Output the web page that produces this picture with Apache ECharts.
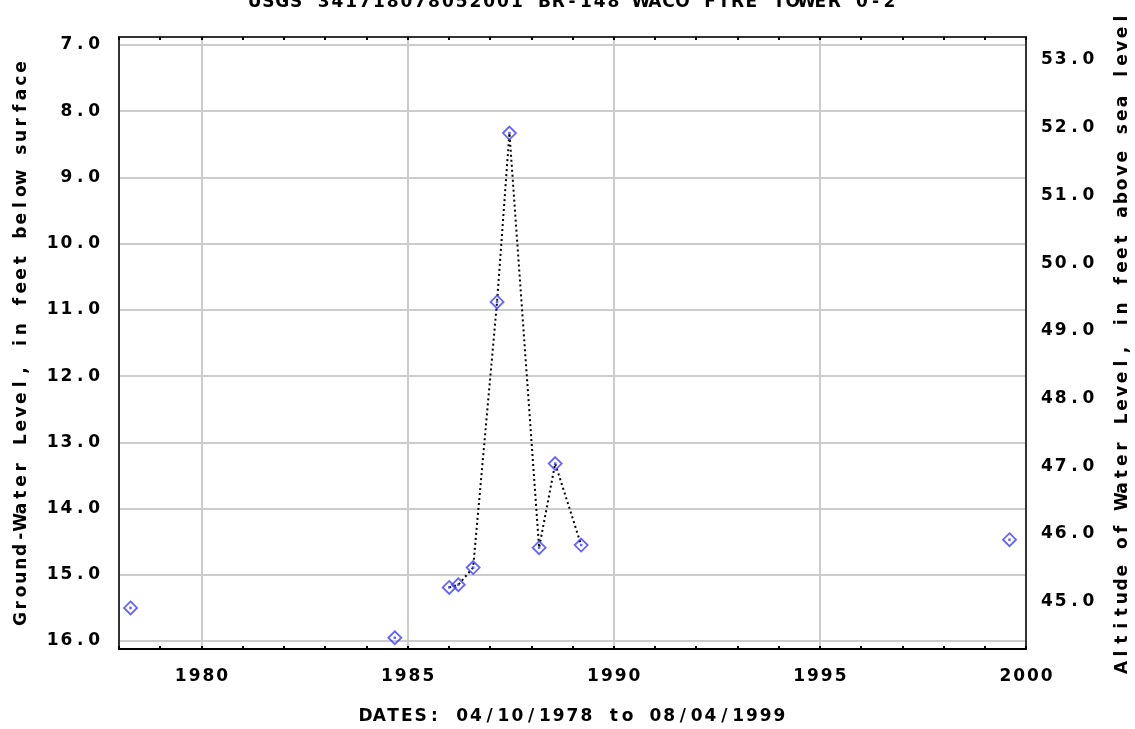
<!DOCTYPE html>
<html>
<head>
<meta charset="utf-8">
<title>BR-148 WACO FIRE TOWER 0-2</title>
<script src="https://cdn.jsdelivr.net/npm/echarts@6/dist/echarts.min.js"></script>
<style>
  html, body { margin: 0; padding: 0; background: #ffffff; }
  #chart { width: 1135px; height: 729px; }
</style>
</head>
<body>
<div id="chart"></div>
<script>
// ---- text ----
const titleText = 'USGS 341718078052001 BR-148 WACO FIRE TOWER 0-2';
const xAxisTitle = 'DATES: 04/10/1978 to 08/04/1999';
const leftAxisTitle = 'Ground-Water Level, in feet below surface';
const rightAxisTitle = 'Altitude of Water Level, in feet above sea level';

// ---- measurements (decimal year, depth to water in feet below land surface) ----
const dates = [1978.28, 1984.69, 1986.01, 1986.23, 1986.59, 1987.17, 1987.47, 1988.19, 1988.58, 1989.21, 1999.60];
const depthBelowSurface = [15.50, 15.95, 15.19, 15.15, 14.89, 10.88, 8.33, 14.59, 13.32, 14.55, 14.47];

// ---- axis ranges and labelled ticks ----
const yearRange = [1978, 2000];
const yearTicks = [1980, 1985, 1990, 1995, 2000];
const depthRange = [6.88, 16.12];
const depthTicks = [7, 8, 9, 10, 11, 12, 13, 14, 15, 16];
const altitudeRange = [44.30, 53.34];
const altitudeTicks = [45, 46, 47, 48, 49, 50, 51, 52, 53];

// gaps longer than this (years) are not joined by the dotted line
const maxJoinGap = 1.0;

// ---- fixed-pitch lettering: every character gets its own cell ----
const CELL = 13.8;
const cellStyle = {
  width: CELL, align: 'center',
  fontFamily: 'DejaVu Sans', fontWeight: 'bold', fontSize: 17, lineHeight: 18, color: '#000'
};
const rich = { c: cellStyle };
function mono(s) {
  return s.split('').map(ch => '{c|' + ch + '}').join('');
}
function isTick(v, list) {
  const r = Math.round(v);
  return Math.abs(v - r) < 1e-6 && list.indexOf(r) !== -1;
}

// ---- grid lines only on the labelled ticks ----
const GRID_GRAY = '#cccccc';
const CLEAR = 'rgba(0,0,0,0)';
function gridColors(range, step, ticks) {
  const n = Math.round((range[1] - range[0]) / step) + 1;
  const out = [];
  for (let k = 0; k < n; k++) {
    const v = range[0] + k * step;
    out.push(isTick(v, ticks) ? GRID_GRAY : CLEAR);
  }
  return out;
}
const yearStep = 1;
const depthStep = 0.04;
const altitudeStep = 0.02;

// ---- series data ----
const points = dates.map((d, i) => [d, depthBelowSurface[i]]);
const lineData = [];
points.forEach((p, i) => {
  if (i > 0 && dates[i] - dates[i - 1] > maxJoinGap) lineData.push(['-', '-']);
  lineData.push(p);
});

const BLUE = '#3c3cff';

const chart = echarts.init(document.getElementById('chart'), null, { renderer: 'canvas' });
chart.setOption({
  animation: false,
  backgroundColor: '#ffffff',
  title: {
    text: mono(titleText),
    left: 572, top: -6, padding: 0, textAlign: 'center',
    textStyle: { rich: rich }
  },
  grid: {
    left: 119, right: 109, top: 37, bottom: 80,
    show: true, borderColor: '#333333', borderWidth: 2,
    backgroundColor: '#ffffff',
    containLabel: false, outerBoundsMode: 'none'
  },
  xAxis: [
    {
      type: 'value', position: 'bottom',
      min: yearRange[0], max: yearRange[1], interval: yearStep,
      axisLine: { show: true, onZero: false, lineStyle: { color: '#000', width: 2 } },
      axisTick: { show: true, inside: true, length: 3, lineStyle: { color: '#000', width: 2 } },
      axisLabel: {
        margin: 19, rich: rich,
        formatter: v => isTick(v, yearTicks) ? mono(String(Math.round(v))) : ''
      },
      splitLine: { show: true, lineStyle: { color: gridColors(yearRange, yearStep, yearTicks), width: 2 } },
      name: mono(xAxisTitle), nameLocation: 'middle', nameGap: 59,
      nameTextStyle: { rich: rich }
    },
    {
      type: 'value', position: 'top',
      min: yearRange[0], max: yearRange[1], interval: yearStep,
      axisLine: { show: true, onZero: false, lineStyle: { color: '#333', width: 2 } },
      axisTick: { show: true, inside: true, length: 3, lineStyle: { color: '#000', width: 2 } },
      axisLabel: { show: false },
      splitLine: { show: false }
    }
  ],
  yAxis: [
    {
      type: 'value', position: 'left', inverse: true,
      min: depthRange[0], max: depthRange[1], interval: depthStep,
      axisLine: { show: true, onZero: false, lineStyle: { color: '#333', width: 2 } },
      axisTick: { show: false },
      axisLabel: {
        margin: 18, rich: rich,
        formatter: v => isTick(v, depthTicks) ? mono(Math.round(v).toFixed(1)) : ''
      },
      splitLine: { show: true, lineStyle: { color: gridColors(depthRange, depthStep, depthTicks), width: 2 } },
      name: mono(leftAxisTitle), nameLocation: 'middle', nameGap: 88,
      nameTextStyle: { rich: rich }
    },
    {
      type: 'value', position: 'right',
      min: altitudeRange[0], max: altitudeRange[1], interval: altitudeStep,
      axisLine: { show: true, onZero: false, lineStyle: { color: '#333', width: 2 } },
      axisTick: { show: false },
      axisLabel: {
        margin: 14, rich: rich,
        formatter: v => isTick(v, altitudeTicks) ? mono(Math.round(v).toFixed(1)) : ''
      },
      splitLine: { show: false },
      name: mono(rightAxisTitle), nameLocation: 'middle', nameGap: 88,
      nameTextStyle: { rich: rich }
    }
  ],
  series: [
    {
      type: 'line', xAxisIndex: 0, yAxisIndex: 0,
      data: lineData, connectNulls: false,
      showSymbol: false, symbol: 'none',
      lineStyle: { color: '#000', width: 2, type: [2, 3] },
      z: 2, silent: true
    },
    {
      type: 'scatter', xAxisIndex: 0, yAxisIndex: 0,
      data: points, symbol: 'diamond', symbolSize: 13,
      itemStyle: { color: 'rgba(255,255,255,0)', borderColor: BLUE, borderWidth: 1.8 },
      z: 3, silent: true
    },
    {
      type: 'scatter', xAxisIndex: 0, yAxisIndex: 0,
      data: points, symbol: 'rect', symbolSize: 2.5,
      itemStyle: { color: BLUE },
      z: 4, silent: true
    }
  ]
});
</script>
</body>
</html>
